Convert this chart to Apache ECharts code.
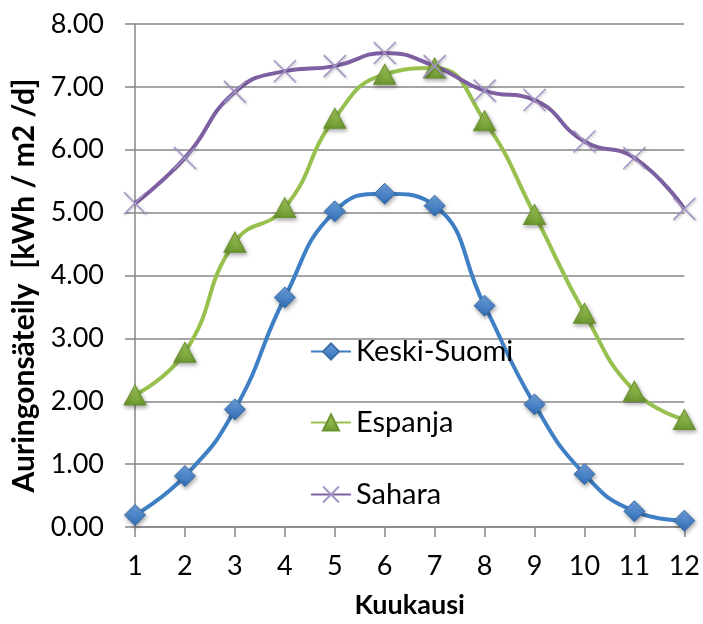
<!DOCTYPE html>
<html>
<head>
<meta charset="utf-8">
<script src="https://cdn.jsdelivr.net/npm/echarts@6/dist/echarts.min.js"></script>
<style>
html,body{margin:0;padding:0;background:#fff;}
#chart{width:703px;height:624px;}
</style>
</head>
<body>
<div id="chart"></div>
<script>
var months = ['1','2','3','4','5','6','7','8','9','10','11','12'];
var keskiSuomi = [0.19, 0.81, 1.87, 3.65, 5.02, 5.30, 5.11, 3.52, 1.95, 0.84, 0.25, 0.10];
var espanja = [2.10, 2.78, 4.53, 5.08, 6.50, 7.20, 7.30, 6.46, 4.97, 3.40, 2.16, 1.71];
var sahara = [5.15, 5.87, 6.92, 7.25, 7.33, 7.54, 7.33, 6.94, 6.79, 6.13, 5.87, 5.06];
var yTitle = 'Auringonsäteily  [kWh / m2 /d]';
var xTitle = 'Kuukausi';

var FONT = 'Lato';
var chart = echarts.init(document.getElementById('chart'), null, {renderer: 'canvas'});

var shadow = {shadowBlur: 4, shadowColor: 'rgba(0,0,0,0.35)', shadowOffsetX: 1, shadowOffsetY: 2};

var diamondStyle = Object.assign({
  color: new echarts.graphic.LinearGradient(0, 0, 0, 1, [
    {offset: 0, color: '#6fa2de'}, {offset: 1, color: '#2e6bb4'}]),
  borderColor: '#3b6fa8', borderWidth: 1
}, shadow);
var triStyle = Object.assign({
  color: new echarts.graphic.LinearGradient(0, 0, 0, 1, [
    {offset: 0, color: '#a9cf5e'}, {offset: 1, color: '#6c9830'}]),
  borderColor: '#6a922e', borderWidth: 1
}, shadow);
var crossStyle = {
  color: 'rgba(0,0,0,0)', borderColor: '#a394c6', borderWidth: 1.5,
  shadowBlur: 3, shadowColor: 'rgba(0,0,0,0.3)', shadowOffsetX: 1, shadowOffsetY: 1
};

function legendAt(name, top) {
  return {
    data: [name], left: 310, top: top, orient: 'vertical',
    itemWidth: 40, itemHeight: 20, itemGap: 0, padding: 0,
    textStyle: {fontFamily: FONT, fontSize: 29, color: '#000'},
    selectedMode: false
  };
}

chart.setOption({
  animation: false,
  backgroundColor: '#fff',
  grid: {left: 135, right: 16, top: 24, bottom: 96, containLabel: false},
  legend: [legendAt('Keski-Suomi', 337), legendAt('Espanja', 408), legendAt('Sahara', 480)],
  xAxis: {
    type: 'category', data: months, boundaryGap: false,
    name: xTitle, nameLocation: 'middle', nameGap: 65,
    nameTextStyle: {fontFamily: FONT, fontSize: 27, fontWeight: 'bold', color: '#000'},
    axisLine: {lineStyle: {color: '#878787', width: 1.5}},
    axisTick: {show: true, length: 10, interval: 0, lineStyle: {color: '#878787', width: 1.5}},
    axisLabel: {fontFamily: FONT, fontSize: 27, color: '#000', margin: 26, interval: 0},
    splitLine: {show: false}
  },
  yAxis: {
    type: 'value', min: 0, max: 8, interval: 1,
    name: yTitle, nameLocation: 'middle', nameGap: 93, nameRotate: 90,
    nameTextStyle: {fontFamily: FONT, fontSize: 30, fontWeight: 'bold', color: '#000',
      padding: [0, 20, 0, 0]},
    axisLine: {show: true, lineStyle: {color: '#878787', width: 1.5}},
    axisTick: {show: true, length: 10, lineStyle: {color: '#878787', width: 1.5}},
    axisLabel: {fontFamily: FONT, fontSize: 27, color: '#000', margin: 31,
      formatter: function (v) { return v.toFixed(2); }},
    splitLine: {show: true, lineStyle: {color: '#878787', width: 1.5}}
  },
  series: [
    {
      name: 'Keski-Suomi', type: 'line', data: keskiSuomi, smooth: 0.5,
      symbol: 'diamond', symbolSize: 21,
      lineStyle: {color: '#3f7fc4', width: 4},
      itemStyle: diamondStyle
    },
    {
      name: 'Espanja', type: 'line', data: espanja, smooth: 0.5,
      symbol: 'triangle', symbolSize: [22, 20],
      lineStyle: {color: '#98c04f', width: 4},
      itemStyle: triStyle
    },
    {
      name: 'Sahara', type: 'line', data: sahara, smooth: 0.5,
      symbol: 'path://M0,0L10,10M10,0L0,10', symbolSize: 22,
      lineStyle: {color: '#7e60a2', width: 4},
      itemStyle: crossStyle
    }
  ]
});
</script>
</body>
</html>
